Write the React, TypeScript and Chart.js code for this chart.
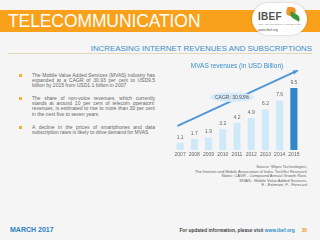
import React, { useEffect, useRef } from "react";
import { Chart, registerables } from "chart.js";

Chart.register(...registerables);

const years = ["2007", "2008", "2009", "2010", "2011", "2012", "2013", "2014", "2015"];
const revenues = [1.1, 1.7, 1.9, 3.2, 4.2, 4.9, 6.2, 7.6, 9.5];
const barColors = ["#d0e9f9", "#d0e9f9", "#d0e9f9", "#d0e9f9", "#d0e9f9", "#d0e9f9", "#d0e9f9", "#d0e9f9", "#3287c8"];
const cagrLabel = "CAGR: 30.93%";
const chartTitle = "MVAS revenues (in USD Billion)";

const bullets = [
  "The Mobile Value Added Services (MVAS) industry has expanded at a CAGR of 30.93 per cent to USD9.5 billion by 2015 from USD1.1 billion in 2007",
  "The share of non-voice revenues, which currently stands at around 10 per cent of telecom operators’ revenues, is estimated to rise to more than 30 per cent in the next five to seven years",
  "A decline in the prices of smartphones and data subscription rates is likely to drive demand for MVAS",
];

const sourceLines = [
  "Source: Wipro Technologies,",
  "The Internet and Mobile Association of India, TechSci Research",
  "Notes: CAGR - Compound Annual Growth Rate,",
  "MVAS - Mobile Value Added Services,",
  "E - Estimate, F - Forecast",
];

const overlayPlugin = {
  id: "overlay",
  afterDraw(chart: any) {
    const ctx: CanvasRenderingContext2D = chart.ctx;
    const y = chart.scales.y;
    const meta = chart.getDatasetMeta(0);
    const bars = meta.data;
    ctx.save();
    // value labels
    ctx.fillStyle = "#666";
    ctx.font = "5px 'Liberation Sans', Arial, sans-serif";
    ctx.textAlign = "center";
    ctx.textBaseline = "bottom";
    bars.forEach((bar: any, i: number) => {
      ctx.fillText(String(revenues[i]), bar.x, bar.y - 3);
    });
    // arrow
    const x0 = bars[0].x - 2;
    const y0 = y.getPixelForValue(3.75);
    const x1 = bars[bars.length - 1].x + 3;
    const y1 = y.getPixelForValue(12.15);
    ctx.strokeStyle = "#4f98d6";
    ctx.fillStyle = "#4f98d6";
    ctx.lineWidth = 2;
    ctx.lineCap = "round";
    ctx.beginPath();
    ctx.moveTo(x0, y0);
    ctx.lineTo(x1, y1);
    ctx.stroke();
    const ang = Math.atan2(y1 - y0, x1 - x0);
    ctx.beginPath();
    ctx.moveTo(x1 + 1.5 * Math.cos(ang), y1 + 1.5 * Math.sin(ang));
    ctx.lineTo(x1 - 4.5 * Math.cos(ang - 0.5), y1 - 4.5 * Math.sin(ang - 0.5));
    ctx.lineTo(x1 - 4.5 * Math.cos(ang + 0.5), y1 - 4.5 * Math.sin(ang + 0.5));
    ctx.closePath();
    ctx.fill();
    // CAGR ellipse
    const cx = bars[3].x + 0.65 * (bars[4].x - bars[3].x);
    const cy = y.getPixelForValue(8.1);
    ctx.fillStyle = "#d4eaf9";
    ctx.beginPath();
    ctx.ellipse(cx, cy, 22, 4.8, 0, 0, Math.PI * 2);
    ctx.fill();
    ctx.fillStyle = "#555";
    ctx.textBaseline = "middle";
    ctx.fillText(cagrLabel, cx, cy + 0.3);
    ctx.restore();
  },
};

function MvasChart() {
  const ref = useRef<HTMLCanvasElement | null>(null);
  useEffect(() => {
    if (!ref.current) return;
    const chart = new Chart(ref.current, {
      type: "bar",
      data: {
        labels: years,
        datasets: [
          {
            data: revenues,
            backgroundColor: barColors,
            borderWidth: 0,
            barPercentage: 0.5,
            categoryPercentage: 1,
          },
        ],
      },
      options: {
        responsive: false,
        maintainAspectRatio: false,
        animation: false,
        layout: { padding: { left: 5, right: 5, top: 2, bottom: 0 } },
        plugins: {
          legend: { display: false },
          tooltip: { enabled: false },
          title: {
            display: true,
            text: chartTitle,
            color: "#3a8fd0",
            font: { size: 6.5, weight: "normal", family: "'Liberation Sans', Arial, sans-serif" },
            padding: { top: 0, bottom: 2 },
          },
        },
        scales: {
          x: {
            grid: { display: false, drawTicks: false },
            border: { display: false },
            ticks: {
              color: "#666",
              font: { size: 5, family: "'Liberation Sans', Arial, sans-serif" },
              padding: 2,
              maxRotation: 0,
            },
          },
          y: {
            display: false,
            min: 0,
            max: 12,
          },
        },
      },
      plugins: [overlayPlugin],
    });
    return () => chart.destroy();
  }, []);
  return <canvas ref={ref} width={138} height={100} style={{ width: 138, height: 100, display: "block" }} />;
}

export default function App() {
  const font = "'Liberation Sans', Arial, sans-serif";
  return (
    <div
      style={{
        position: "fixed",
        left: 0,
        top: 0,
        width: 320,
        height: 240,
        background: "#f5f5f5",
        fontFamily: font,
        overflow: "hidden",
      }}
    >
      {/* header band */}
      <div style={{ position: "absolute", left: 0, top: 10, width: 320, height: 22, background: "#f9a11b" }} />
      <div
        style={{
          position: "absolute",
          left: 8,
          top: 10,
          height: 22,
          lineHeight: "22px",
          color: "#fff",
          fontSize: 17.5,
          letterSpacing: -0.1,
        }}
      >
        TELECOMMUNICATION
      </div>
      {/* logo */}
      <div
        style={{
          position: "absolute",
          left: 252,
          top: 3,
          width: 55,
          height: 32,
          background: "#fff",
          borderRadius: 16,
          boxShadow: "0 0 2px rgba(0,0,0,0.25)",
        }}
      >
        <div style={{ position: "absolute", left: 6, top: 8, fontSize: 10, fontWeight: "bold", color: "#555", letterSpacing: 0.3 }}>
          IBEF
        </div>
        <div
          style={{
            position: "absolute",
            left: 34,
            top: 4,
            width: 10,
            height: 9,
            background: "#f39325",
            transform: "skewX(-20deg)",
            borderRadius: "0 6px 0 6px",
          }}
        />
        <div
          style={{
            position: "absolute",
            left: 37,
            top: 11,
            width: 12,
            height: 5,
            background: "#3a9a3a",
            transform: "rotate(30deg)",
            borderRadius: "0 5px 0 5px",
          }}
        />
        <div style={{ position: "absolute", left: 6, top: 20, fontSize: 2.5, color: "#888", whiteSpace: "nowrap" }}>
          INDIA BRAND EQUITY FOUNDATION
        </div>
        <div style={{ position: "absolute", left: 6, top: 25, fontSize: 3.5, color: "#555", whiteSpace: "nowrap" }}>
          www.ibef.org
        </div>
      </div>
      {/* subtitle */}
      <div
        style={{
          position: "absolute",
          right: 8,
          top: 43.5,
          fontSize: 7.9,
          color: "#3a8fc8",
          whiteSpace: "nowrap",
        }}
      >
        INCREASING INTERNET REVENUES AND SUBSCRIPTIONS
      </div>
      <div style={{ position: "absolute", left: 8, top: 53, width: 304, height: 1, background: "#e2d9bd" }} />
      {/* bullets */}
      <div style={{ position: "absolute", left: 19, top: 72.5, width: 136 }}>
        {bullets.map((b, i) => (
          <div key={i} style={{ position: "relative", paddingLeft: 13, marginBottom: 7.5 }}>
            <div
              style={{
                position: "absolute",
                left: 0,
                top: 1.2,
                width: 3,
                height: 3,
                background: "#f5b335",
              }}
            />
            <div style={{ fontSize: 5, lineHeight: "5.3px", color: "#666", textAlign: "justify" }}>{b}</div>
          </div>
        ))}
      </div>
      {/* chart */}
      <div style={{ position: "absolute", left: 168, top: 60 }}>
        <MvasChart />
      </div>
      {/* source */}
      <div
        style={{
          position: "absolute",
          right: 13,
          top: 165,
          textAlign: "right",
          fontSize: 4,
          lineHeight: "4.6px",
          color: "#666",
          whiteSpace: "nowrap",
        }}
      >
        {sourceLines.map((s, i) => (
          <div key={i}>{s}</div>
        ))}
      </div>
      {/* footer */}
      <div style={{ position: "absolute", left: 10, top: 226, fontSize: 7, fontWeight: "bold", color: "#2f80c2" }}>MARCH 2017</div>
      <div
        style={{
          position: "absolute",
          right: 13,
          top: 227.5,
          fontSize: 4.8,
          fontWeight: "bold",
          color: "#444",
          whiteSpace: "nowrap",
        }}
      >
        For updated information, please visit <span style={{ color: "#2f8fd0" }}>www.ibef.org</span>
        <span style={{ color: "#f39325", marginLeft: 7 }}>30</span>
      </div>
    </div>
  );
}
